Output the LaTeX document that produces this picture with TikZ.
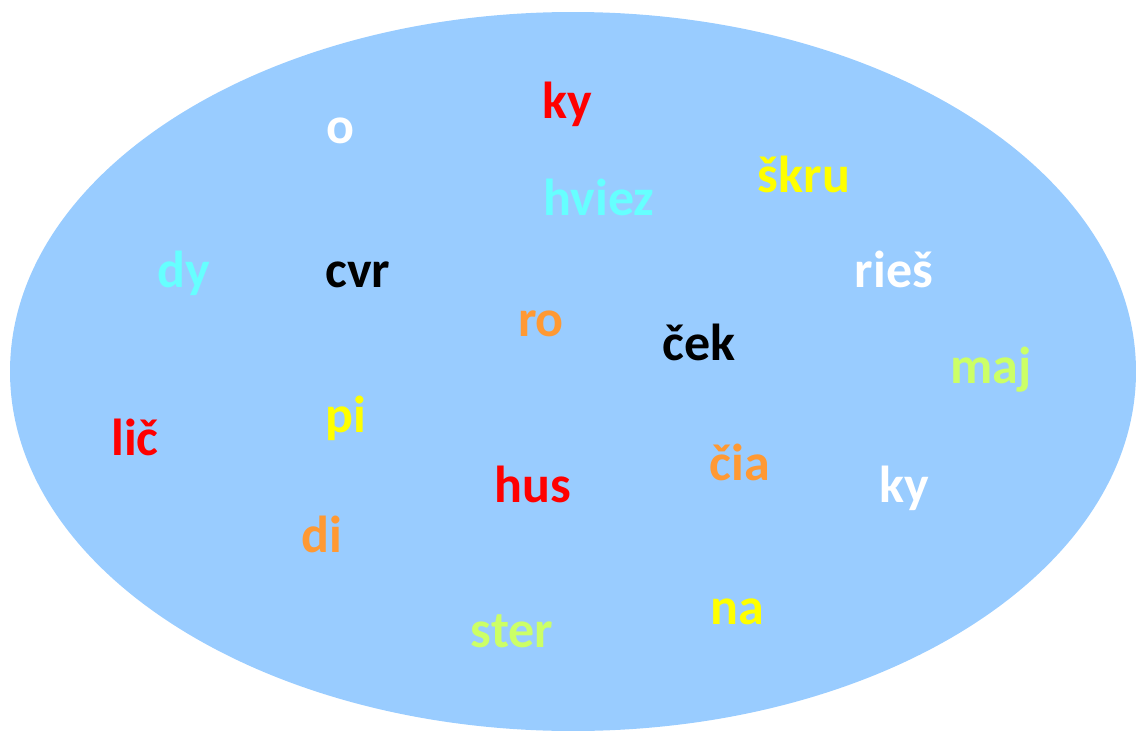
\documentclass[tikz,border=0pt]{standalone}
\usepackage{fontspec}
\setmainfont{Carlito}
\definecolor{bg}{HTML}{99CCFF}
\definecolor{cred}{HTML}{FF0000}
\definecolor{ccyan}{HTML}{66FFFF}
\definecolor{cyel}{HTML}{FFFF00}
\definecolor{corange}{HTML}{FF9933}
\definecolor{cgreen}{HTML}{CCFF66}
\begin{document}
\begin{tikzpicture}[x=1pt,y=-1pt,
  syl/.style={anchor=base,inner sep=0pt,font=\fontsize{52}{60}\selectfont\bfseries}]
\useasboundingbox (0,0) rectangle (1136,731);
\clip (0,0) rectangle (1136,731);
\fill[bg] (573,371.5) ellipse [x radius=563, y radius=359.5];
\node[syl,text=cred]    (ky1)   at (567,118) {ky};
\node[syl,text=white]   (o)     at (340,143) {o};
\node[syl,text=ccyan]   (hviez) at (599,215) {hviez};
\node[syl,text=cyel]    (skru)  at (804,192) {škru};
\node[syl,text=ccyan]   (dy)    at (184,287) {dy};
\node[syl,text=black]   (cvr)   at (358,287) {cvr};
\node[syl,text=white]   (ries)  at (894,287) {rieš};
\node[syl,text=corange] (ro)    at (541,336) {ro};
\node[syl,text=black]   (cek)   at (699,360) {ček};
\node[syl,text=cgreen]  (maj)   at (991,383) {maj};
\node[syl,text=cyel]    (pi)    at (346,432) {pi};
\node[syl,text=cred]    (lic)   at (135,455) {lič};
\node[syl,text=corange] (cia)   at (740,480) {čia};
\node[syl,text=cred]    (hus)   at (533,502) {hus};
\node[syl,text=white]   (ky2)   at (904,502) {ky};
\node[syl,text=corange] (di)    at (322,552) {di};
\node[syl,text=cyel]    (na)    at (737,624) {na};
\node[syl,text=cgreen]  (ster)  at (512,647) {ster};
\end{tikzpicture}
\end{document}
